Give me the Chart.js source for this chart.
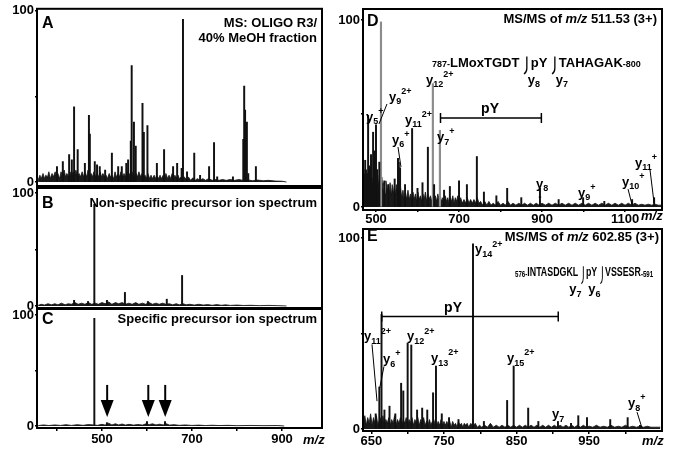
<!DOCTYPE html>
<html><head><meta charset="utf-8">
<script src="https://cdn.jsdelivr.net/npm/chart.js@4.4.1/dist/chart.umd.min.js"></script>
<style>
html,body{margin:0;padding:0;background:#fff;width:674px;height:449px;overflow:hidden}
#wrap{position:relative;width:674px;height:449px;background:#fff}
#wrap canvas{position:absolute;left:0;top:0}
</style></head>
<body><div id="wrap">
<canvas id="cA" width="674" height="449"></canvas>
<canvas id="cB" width="674" height="449"></canvas>
<canvas id="cC" width="674" height="449"></canvas>
<canvas id="cD" width="674" height="449"></canvas>
<canvas id="cE" width="674" height="449"></canvas>
</div>
<script>
// ---------------- DATA (m/z, relative intensity %) ----------------
const aPeaks = [[400,9],[413,12],[427,16],[433,13],[438,44],[446,19],[462,11],[471,39],[473,28],[484,12],[489,10],[495,9],[507,7],[522,17],[536,9],[544,9],[554,11],[558,13],[564,24],[566,68],[571,35],[575,21],[590,46],[593,29],[601,33],[622,11],[638,19],[658,9],[667,11],[677,8],[680,95],[689,6],[705,17],[718,4],[738,9],[749,23],[756,3],[791,3],[814,25],[816,56],[818,42],[822,35],[825,5],[842,9]];
const aNoise = [[358,1],[362,4],[365,2],[369,5],[372,2],[375,4],[379,3],[382,6],[385,2],[389,5],[392,3],[396,6],[399,3],[402,5],[406,2],[409,6],[412,3],[416,7],[419,3],[422,5],[426,3],[429,6],[432,3],[436,6],[439,3],[442,7],[446,3],[449,5],[452,3],[456,6],[459,3],[462,6],[466,3],[469,7],[472,3],[476,5],[479,3],[482,6],[486,3],[489,5],[492,3],[496,6],[499,3],[502,5],[506,3],[509,4],[512,2],[516,5],[519,3],[522,4],[526,2],[529,6],[532,3],[536,5],[539,3],[542,6],[546,3],[549,5],[552,3],[556,6],[559,3],[562,5],[566,3],[569,6],[572,3],[576,5],[579,3],[582,6],[586,3],[589,5],[592,3],[596,4],[599,2],[602,5],[606,2],[609,4],[612,2],[616,4],[619,2],[622,4],[626,2],[629,4],[632,2],[636,4],[639,2],[642,5],[646,2],[649,4],[652,2],[656,5],[659,2],[662,4],[666,2],[669,4],[672,2],[676,3],[679,2],[683,3],[687,1.5],[692,3],[697,1],[702,2.5],[707,1],[712,2],[718,1],[724,2],[730,1],[737,2],[745,1],[752,1.5],[760,1],[768,1.5],[776,1],[785,1.5],[795,1],[805,1.5],[815,0.8],[825,1.2],[835,0.8],[845,1.2],[858,0.8],[870,1],[885,0.6],[900,0.5],[910,0]];
const bPeaks = [[438,5],[469,4],[483,90],[511,5],[551,12],[602,4],[644,6],[678,27]];
const bNoise = [[358,0.5],[365,1.5],[372,0.8],[380,2],[388,1],[395,2],[402,1],[410,2.5],[418,1],[425,2],[432,1.5],[440,3],[447,1.5],[455,2.5],[462,1.5],[470,3],[477,1.5],[485,2.5],[492,1.5],[500,3],[507,2],[515,3.5],[522,1.5],[530,3],[537,2],[545,3],[552,1.5],[560,2.5],[567,1.5],[575,3],[582,1.5],[590,2.5],[597,1.5],[605,3],[612,1.5],[620,2.5],[627,1.5],[635,2.5],[642,1.5],[650,2],[657,1],[665,2],[672,1],[680,2],[687,1],[695,1.5],[705,0.8],[715,1.5],[725,0.8],[735,1.2],[745,0.6],[755,1.2],[765,0.6],[775,1],[785,0.5],[800,0.8],[815,0.4],[830,0.6],[850,0.3],[870,0.5],[890,0.3],[910,0]];
const cPeaks = [[483,97],[511,3],[600,4],[640,4]];
const cNoise = [[358,0.3],[370,1],[382,0.4],[395,1],[408,0.5],[420,1.2],[432,0.5],[445,1.2],[458,0.6],[470,1.3],[490,0.6],[500,1.5],[507,0.8],[515,2.5],[522,1],[530,2],[537,1],[545,1.8],[552,0.8],[560,1.5],[570,0.8],[580,1.3],[590,0.8],[598,2],[605,1.2],[612,2],[620,1],[628,1.6],[636,1],[643,2],[650,0.8],[660,1.2],[672,0.6],[685,1],[700,0.5],[715,0.8],[730,0.4],[745,0.7],[760,0.4],[780,0.6],[800,0.3],[830,0.5],[860,0.3],[890,0.4],[905,0]];
const cArrows = [511.5, 602.9, 640.5];

const dPeaks = [[470,20],[474,25],[478,18],[481,49],[485,22],[488,28],[493,40],[497,30],[500,44],[503,20],[508,24],[520,14],[530,12],[545,15],[553,26],[555,24],[558,21],[570,12],[587,42],[600,10],[612,13],[625,32],[640,12],[664,9],[678,11],[700,14],[719,12],[743,27],[760,8],[790,6],[816,10],[850,5],[895,10],[940,4],[999,5],[1050,3],[1117,4],[1170,5]];
const dGreyPeaks = [[512,99],[637,66],[654,41]];
const dNoise = [[469,14],[471,8],[473,18],[475,9],[477,20],[479,10],[481,17],[483,8],[486,19],[488,11],[490,16],[492,9],[495,18],[497,10],[499,15],[502,9],[504,17],[507,10],[509,14],[512,8],[514,16],[517,9],[519,13],[522,7],[524,14],[527,8],[529,12],[532,7],[534,13],[537,6],[539,12],[542,7],[544,11],[547,6],[549,12],[552,7],[554,10],[557,6],[559,11],[562,5],[565,9],[568,4],[571,8],[574,4],[577,9],[580,4],[583,7],[586,3],[589,8],[592,4],[595,7],[598,3],[601,8],[604,4],[607,6],[610,3],[613,7],[616,4],[619,8],[622,3],[625,7],[628,4],[631,6],[634,3],[637,7],[640,3],[643,6],[646,3],[649,7],[652,4],[655,6],[658,3],[661,5],[664,3],[667,6],[670,3],[673,5],[676,2],[679,5],[682,3],[685,6],[688,2],[691,5],[694,3],[697,6],[700,2],[704,5],[708,2],[712,4],[716,2],[720,5],[724,2],[728,4],[732,2],[736,4],[740,2],[744,5],[748,2],[752,3],[757,1],[762,3],[767,1],[772,3],[777,1],[782,2],[788,1],[794,3],[800,1],[806,2],[812,1],[818,3],[824,1],[830,2],[837,1],[844,2],[851,1],[858,2],[865,1],[872,2],[879,1],[886,2],[893,1],[900,2],[908,1],[916,2],[924,1],[932,2],[940,1],[948,2],[956,1],[964,2],[972,1],[980,2],[988,1],[996,2],[1004,1],[1012,2],[1020,1],[1028,2],[1036,1],[1044,2],[1052,1],[1060,2],[1068,1],[1076,2],[1084,1],[1092,2],[1100,1],[1108,2],[1116,1],[1124,2],[1132,1],[1140,1.5],[1148,1],[1156,1.5],[1164,1],[1172,1.5],[1180,1],[1189,1]];
const dPY = [655.4, 898.4];

const ePeaks = [[656,8],[661,22],[664,60],[668,10],[675,12],[683,8],[691,24],[694,20],[700,45],[705,44],[713,10],[720,11],[727,10],[735,19],[739,33],[747,8],[757,6],[770,5],[790,97],[805,4],[837,15],[846,33],[866,11],[880,4],[907,4],[925,3],[935,7],[947,6],[979,5],[1003,6],[1020,2]];
const eNoise = [[639,3],[641,7],[643,2],[645,6],[647,3],[649,8],[651,2],[653,6],[655,3],[657,7],[659,2],[662,6],[664,3],[666,7],[668,2],[670,5],[672,3],[674,6],[676,2],[678,5],[680,3],[682,7],[684,2],[686,5],[688,3],[690,6],[692,2],[694,5],[696,3],[698,6],[700,2],[702,5],[704,3],[706,6],[708,2],[710,5],[712,3],[714,6],[716,2],[718,5],[720,3],[722,6],[724,2],[726,4],[728,2],[730,5],[732,2],[734,4],[736,2],[738,5],[740,2],[742,4],[744,2],[746,5],[748,2],[750,4],[752,2],[754,4],[756,2],[758,4],[760,1],[762,4],[764,2],[766,3],[768,1],[770,4],[772,2],[774,3],[776,1],[778,3],[780,2],[782,3],[784,1],[787,3],[790,1],[793,3],[796,1],[799,2],[802,1],[806,2],[810,1],[814,3],[818,1],[822,2],[826,1],[830,2],[834,1],[838,2],[842,1],[846,2],[850,1],[854,2],[858,1],[862,2],[866,1],[870,2],[874,1],[878,2],[882,1],[886,2],[890,1],[894,2],[898,1],[902,2],[906,1],[910,2],[914,1],[918,2],[922,1],[926,2],[930,1],[934,2],[938,1],[942,2],[946,1],[950,1.5],[955,1],[960,2],[965,1],[970,1.5],[975,1],[980,2],[985,1],[990,1.5],[995,1],[1000,2],[1005,1],[1010,1.5],[1015,1],[1020,1.5],[1025,1],[1030,1.5],[1035,1],[1040,1],[1048,1]];
const ePY = [664.3, 907.4];

const yTicks = [0, 50, 100];
const yTickLabels = [0, 100];
const leftTicks = [400, 500, 600, 700, 800, 900];
const leftTickLabels = [500, 700, 900];
const dTicks = [500, 600, 700, 800, 900, 1000, 1100];
const dTickLabels = [500, 700, 900, 1100];
const eTicks = [650, 700, 750, 800, 850, 900, 950, 1000];
const eTickLabels = [650, 750, 850, 950];

// ---------------- drawing helpers ----------------
const FONT = '"Liberation Sans", Arial, Helvetica, sans-serif';
function fnt(ctx, size, italic) { ctx.font = (italic ? 'italic ' : '') + 'bold ' + size + 'px ' + FONT; }
function layoutSegs(ctx, segs, size) {
  const parts = []; let w = 0;
  for (const s of segs) {
    const o = typeof s === 'string' ? {t: s, k: 'n'} : s;
    if (o.k === 'hook') { parts.push({hook: true, x: w, lab: o.lab}); w += size * 0.6; continue; }
    let fs = size, dy = 0;
    if (o.k === 'sub') { fs = Math.round(size * 0.7); dy = size * 0.38; }
    else if (o.k === 'sup') { fs = Math.round(size * 0.7); dy = -size * 0.42; }
    else if (o.k === 'small') { fs = Math.round(size * 0.72); dy = size * 0.1; }
    const it = o.k === 'i';
    fnt(ctx, fs, it);
    const ww = ctx.measureText(o.t).width;
    parts.push({t: o.t, fs, dy, it, x: w});
    w += ww;
  }
  return {parts, w};
}
function drawRich(ctx, px, py, segs, size, align, sx, labDx) {
  sx = sx || 1;
  const L = layoutSegs(ctx, segs, size);
  let x0 = px;
  if (align === 'right') x0 = px - L.w * sx; else if (align === 'center') x0 = px - L.w * sx / 2;
  ctx.save();
  ctx.translate(x0, py); ctx.scale(sx, 1);
  ctx.textBaseline = 'middle'; ctx.textAlign = 'left'; ctx.fillStyle = '#000'; ctx.strokeStyle = '#000';
  const labs = [];
  for (const p of L.parts) {
    if (p.hook) {
      const hx = p.x + size * 0.3;
      ctx.beginPath(); ctx.lineWidth = 1.3;
      ctx.moveTo(hx, -size * 0.5); ctx.lineTo(hx, size * 0.4);
      ctx.quadraticCurveTo(hx, size * 0.7, hx - size * 0.22, size * 0.85);
      ctx.stroke();
      if (p.lab) labs.push({x: x0 + hx * sx, lab: p.lab});
      continue;
    }
    fnt(ctx, p.fs, p.it);
    ctx.fillText(p.t, p.x, p.dy);
  }
  ctx.restore();
  for (const h of labs) drawRich(ctx, h.x + (labDx || 0), py + 17, ['y', {t: h.lab, k: 'sub'}], 13, 'center', 1);
}

function makeAnnPlugin(items) {
  return {
    id: 'ann',
    afterDraw(chart) {
      const {ctx, chartArea: a} = chart;
      const X = v => chart.scales.x.getPixelForValue(v);
      const Y = v => chart.scales.y.getPixelForValue(v);
      ctx.save();
      ctx.strokeStyle = '#000'; ctx.fillStyle = '#000';
      for (const it of items) {
        if (it.k === 'text') {
          drawRich(ctx, X(it.x), Y(it.y), it.segs, it.size || 13, it.align || 'left', it.sx, it.labDx);
        } else if (it.k === 'line') {
          ctx.lineWidth = it.w || 1; ctx.beginPath();
          ctx.moveTo(X(it.x1), Y(it.y1)); ctx.lineTo(X(it.x2), Y(it.y2)); ctx.stroke();
        } else if (it.k === 'span') {
          const y = Y(it.y), x1 = X(it.x1), x2 = X(it.x2);
          ctx.lineWidth = 1.5; ctx.beginPath();
          ctx.moveTo(x1, y); ctx.lineTo(x2, y);
          ctx.moveTo(x1, y - 5); ctx.lineTo(x1, y + 5);
          ctx.moveTo(x2, y - 5); ctx.lineTo(x2, y + 5);
          ctx.stroke();
        } else if (it.k === 'arrow') {
          const x = X(it.x), y1 = Y(it.y1), y2 = Y(it.y2);
          ctx.lineWidth = 2; ctx.beginPath(); ctx.moveTo(x, y1); ctx.lineTo(x, y2 - 15); ctx.stroke();
          ctx.beginPath(); ctx.moveTo(x - 6.5, y2 - 17); ctx.lineTo(x + 6.5, y2 - 17); ctx.lineTo(x, y2); ctx.closePath(); ctx.fill();
        }
      }
      ctx.lineWidth = 2;
      ctx.strokeRect(a.left, a.top, a.right - a.left, a.bottom - a.top);
      ctx.restore();
    }
  };
}

const toXY = arr => arr.map(p => ({x: p[0], y: p[1]}));
const YW = 30;

function makePanel(id, p) {
  const datasets = [
    {type: 'line', data: toXY(p.noise), borderColor: '#111', borderWidth: 0.8, backgroundColor: '#1a1a1a',
     fill: 'origin', pointRadius: 0, tension: 0, order: 3},
    {type: 'bar', data: toXY(p.peaks), backgroundColor: '#111', barThickness: 1.3, grouped: false, order: 1}
  ];
  if (p.grey) datasets.push({type: 'bar', data: toXY(p.grey), backgroundColor: '#8c8c8c', barThickness: 1.5, grouped: false, order: 2});
  const xShow = !!p.xTicks;
  new Chart(document.getElementById(id), {
    type: 'bar',
    data: {datasets},
    options: {
      responsive: false, animation: false, events: [],
      layout: {padding: {left: p.L - YW, top: p.T, right: 674 - p.R, bottom: 449 - p.B - (xShow ? p.xH : 0)}},
      plugins: {legend: {display: false}, tooltip: {enabled: false}},
      scales: {
        x: {
          type: 'linear', min: p.xmin, max: p.xmax, offset: false, display: xShow,
          grid: {display: true, offset: false, drawOnChartArea: false, drawTicks: true, tickLength: p.tl || 3, color: '#000', lineWidth: 1.5},
          border: {display: false},
          afterBuildTicks: s => { s.ticks = (p.xTicks || []).map(v => ({value: v})); },
          afterFit: s => { s.height = p.xH || 0; },
          ticks: {autoSkip: false, maxRotation: 0, padding: p.tp || 0, color: '#000',
                  font: {family: FONT, size: 13, weight: 'bold'},
                  callback: v => (p.xLabels || []).includes(v) ? String(v) : ''}
        },
        y: {
          type: 'linear', min: p.ymin, max: p.ymax,
          grid: {display: true, drawOnChartArea: false, drawTicks: true, tickLength: 2, color: '#000', lineWidth: 1.5},
          border: {display: false},
          afterBuildTicks: s => { s.ticks = yTicks.map(v => ({value: v})); },
          afterFit: s => { s.width = YW; },
          ticks: {autoSkip: false, padding: 1, color: '#000', font: {family: FONT, size: 13, weight: 'bold'},
                  callback: v => yTickLabels.includes(v) ? String(v) : ''}
        }
      }
    },
    plugins: [makeAnnPlugin(p.ann)]
  });
}

const ysub = (s, sup) => sup ? ['y', {t: s, k: 'sub'}, {t: sup, k: 'sup'}] : ['y', {t: s, k: 'sub'}];

// ---------- Panel A ----------
makePanel('cA', {
  L: 37, R: 322, T: 8, B: 186, xmin: 355.6, xmax: 988.9, ymin: -2.3, ymax: 101.2,
  peaks: aPeaks, noise: aNoise,
  ann: [
    {k: 'text', x: 366.7, y: 92.4, segs: ['A'], size: 16},
    {k: 'text', x: 977.8, y: 92.4, segs: ['MS: OLIGO R3/'], align: 'right'},
    {k: 'text', x: 977.8, y: 84.0, segs: ['40% MeOH fraction'], align: 'right'}
  ]
});
// ---------- Panel B ----------
makePanel('cB', {
  L: 37, R: 322, T: 188, B: 308, xmin: 355.6, xmax: 988.9, ymin: -1.8, ymax: 104.4,
  peaks: bPeaks, noise: bNoise,
  ann: [
    {k: 'text', x: 366.7, y: 91, segs: ['B'], size: 16},
    {k: 'text', x: 977.8, y: 91, segs: ['Non-specific precursor ion spectrum'], align: 'right'}
  ]
});
// ---------- Panel C ----------
makePanel('cC', {
  L: 37, R: 322, T: 309, B: 428, xmin: 355.6, xmax: 988.9, ymin: -1.8, ymax: 105.4,
  peaks: cPeaks, noise: cNoise, xTicks: leftTicks, xLabels: leftTickLabels, xH: 18, tl: 3, tp: 1,
  ann: [
    {k: 'text', x: 366.7, y: 95.5, segs: ['C'], size: 16},
    {k: 'text', x: 977.8, y: 96.4, segs: ['Specific precursor ion spectrum'], align: 'right'},
    ...cArrows.map(m => ({k: 'arrow', x: m, y1: 37, y2: 8})),
    {k: 'text', x: 946.7, y: -12.6, segs: [{t: 'm/z', k: 'i'}]}
  ]
});
// ---------- Panel D ----------
makePanel('cD', {
  L: 363, R: 662, T: 9, B: 210, xmin: 468.7, xmax: 1189, ymin: -1.6, ymax: 105.9,
  peaks: dPeaks, grey: dGreyPeaks, noise: dNoise, xTicks: dTicks, xLabels: dTickLabels, xH: 16, tl: 2, tp: 0,
  ann: [
    {k: 'text', x: 478.3, y: 98.9, segs: ['D'], size: 16},
    {k: 'text', x: 1177, y: 100.5, segs: ['MS/MS of ', {t: 'm/z', k: 'i'}, ' 511.53 (3+)'], align: 'right'},
    {k: 'text', x: 634.9, y: 77, labDx: 7, segs: [{t: '787-', k: 'small'}, 'LMoxTGDT ', {k: 'hook', lab: '8'}, 'pY ', {k: 'hook', lab: '7'}, 'TAHAGAK', {t: '-800', k: 'small'}]},
    {k: 'text', x: 531.3, y: 58.8, segs: ysub('9', '2+')},
    {k: 'line', x1: 526.5, y1: 55.1, x2: 507.2, y2: 44.4},
    {k: 'text', x: 475.9, y: 48.1, segs: ysub('5', '+')},
    {k: 'text', x: 620.5, y: 67.9, segs: ysub('12', '2+')},
    {k: 'text', x: 569.9, y: 46.5, segs: ysub('11', '2+')},
    {k: 'text', x: 538.6, y: 35.8, segs: ysub('6', '+')},
    {k: 'line', x1: 553, y1: 32.1, x2: 560.2, y2: 21.4},
    {k: 'text', x: 647, y: 37.4, segs: ysub('7', '+')},
    {k: 'span', x1: dPY[0], x2: dPY[1], y: 47.6},
    {k: 'text', x: 774.7, y: 52.5, segs: ['pY'], align: 'center', size: 14},
    {k: 'text', x: 885.5, y: 12.3, segs: ysub('8')},
    {k: 'line', x1: 892, y1: 5.3, x2: 898, y2: 5.3},
    {k: 'text', x: 986.7, y: 7.5, segs: ysub('9', '+')},
    {k: 'text', x: 1092.8, y: 13.4, segs: ysub('10', '+')},
    {k: 'line', x1: 1107.2, y1: 9.6, x2: 1116.9, y2: 1.1},
    {k: 'text', x: 1124.1, y: 23.5, segs: ysub('11', '+')},
    {k: 'line', x1: 1160.2, y1: 19.8, x2: 1169.9, y2: 2.1},
    {k: 'text', x: 1138.5, y: -5.3, segs: [{t: 'm/z', k: 'i'}]}
  ]
});
// ---------- Panel E ----------
makePanel('cE', {
  L: 363, R: 662, T: 229, B: 431, xmin: 638.5, xmax: 1050.3, ymin: -1, ymax: 104.7,
  peaks: ePeaks, noise: eNoise, xTicks: eTicks, xLabels: eTickLabels, xH: 16, tl: 3, tp: 0,
  ann: [
    {k: 'text', x: 644, y: 100.5, segs: ['E'], size: 16},
    {k: 'text', x: 792.8, y: 93.8, segs: ysub('14', '2+')},
    {k: 'text', x: 1046.2, y: 100.5, segs: ['MS/MS of ', {t: 'm/z', k: 'i'}, ' 602.85 (3+)'], align: 'right'},
    {k: 'text', x: 847.9, y: 81.8, size: 13, sx: 0.68, labDx: -8, segs: [{t: '576-', k: 'small'}, 'INTASDGKL ', {k: 'hook', lab: '7'}, 'pY ', {k: 'hook', lab: '6'}, 'VSSESR', {t: '-591', k: 'small'}]},
    {k: 'span', x1: ePY[0], x2: ePY[1], y: 58.9},
    {k: 'text', x: 762.5, y: 63.5, segs: ['pY'], align: 'center', size: 14},
    {k: 'text', x: 639.9, y: 48.4, segs: ysub('11', '2+')},
    {k: 'line', x1: 650.9, y1: 44.3, x2: 657.8, y2: 14.6},
    {k: 'text', x: 666, y: 36.5, segs: ysub('6', '+')},
    {k: 'line', x1: 667.4, y1: 32.8, x2: 661.5, y2: 21.4},
    {k: 'text', x: 699.1, y: 48.4, segs: ysub('12', '2+')},
    {k: 'text', x: 732.1, y: 37, segs: ysub('13', '2+')},
    {k: 'text', x: 836.8, y: 37, segs: ysub('15', '2+')},
    {k: 'text', x: 898.8, y: 7.8, segs: ysub('7')},
    {k: 'text', x: 1003.5, y: 13.5, segs: ysub('8', '+')},
    {k: 'line', x1: 1015.9, y1: 8.9, x2: 1022.8, y2: 0.5},
    {k: 'text', x: 1022.8, y: -6.3, segs: [{t: 'm/z', k: 'i'}]}
  ]
});
</script></body></html>
